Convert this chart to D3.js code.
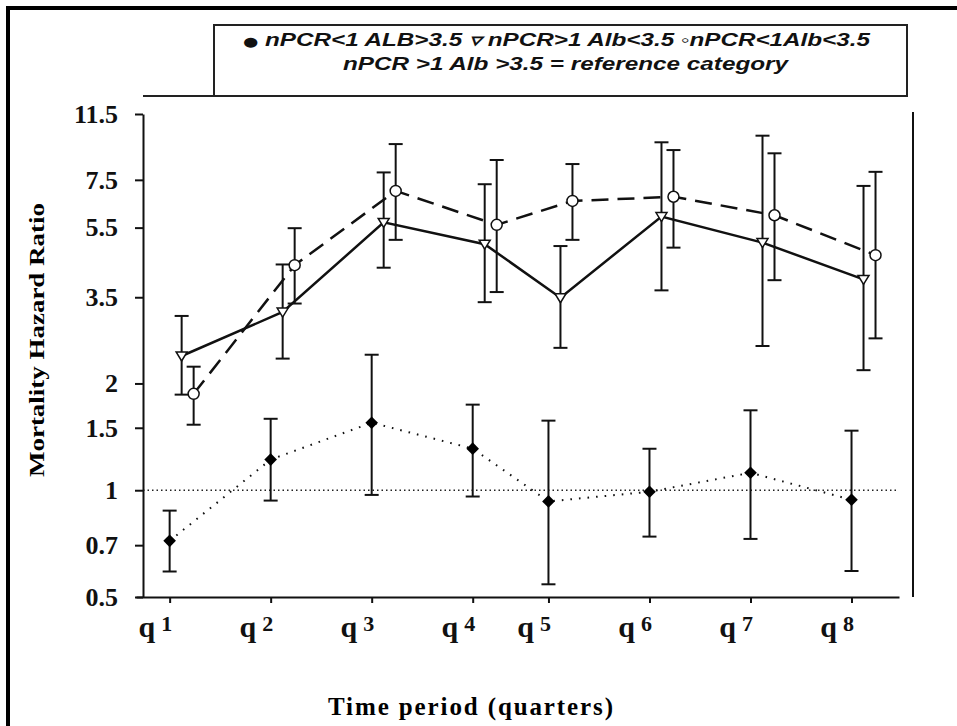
<!DOCTYPE html>
<html lang="en">
    <head>
        <meta charset="utf-8">
        <title>Mortality Hazard Ratio</title>
        <script type="text/javascript" src="https://d3js.org/d3.v7.min.js"></script>
        <style type="text/css">
            body { margin: 0; background: white; }
            .axis path, .axis line { fill: none; stroke: #111; stroke-width: 2; }
            .yaxis text { font-family: "Liberation Serif", serif; font-weight: bold; font-size: 26px; fill: #111; }
            .xaxis text { font-family: "Liberation Serif", serif; font-weight: bold; fill: #111; }
            .legend text { font-family: "Liberation Sans", Arial, sans-serif; font-weight: bold; font-style: italic; font-size: 18px; fill: #111; }
        </style>
    </head>
    <body>
        <script type="text/javascript">

            // quarters (x position of each quarter on the time axis)
            var quarterLabels = ["1", "2", "3", "4", "5", "6", "7", "8"];
            var quarterPos = [1, 2, 3, 4, 4.75, 5.75, 6.75, 7.75];
            var yTicks = [0.5, 0.7, 1, 1.5, 2, 3.5, 5.5, 7.5, 11.5];

            // nPCR<1 ALB>3.5 (filled diamonds)
            var hrA = [0.72, 1.22, 1.55, 1.31, 0.93, 0.99, 1.12, 0.94];
            var loA = [0.59, 0.935, 0.97, 0.96, 0.543, 0.74, 0.729, 0.592];
            var hiA = [0.876, 1.59, 2.41, 1.743, 1.571, 1.309, 1.68, 1.472];

            // nPCR>1 Alb<3.5 (open triangles)
            var hrB = [2.39, 3.18, 5.69, 4.94, 3.49, 5.91, 4.99, 3.93];
            var loB = [1.86, 2.35, 4.24, 3.39, 2.52, 3.66, 2.55, 2.18];
            var hiB = [3.10, 4.33, 7.87, 7.29, 4.88, 9.57, 9.99, 7.21];

            // nPCR<1 Alb<3.5 (open circles)
            var hrC = [1.87, 4.31, 6.98, 5.60, 6.54, 6.72, 5.96, 4.60];
            var loC = [1.53, 3.36, 5.08, 3.62, 5.08, 4.83, 3.91, 2.68];
            var hiC = [2.23, 5.48, 9.46, 8.53, 8.31, 9.10, 8.91, 7.90];

            var w = 957, h = 726;

            var svg = d3.select("body").append("svg")
                        .attr("width", w)
                        .attr("height", h);

            // outer frame
            svg.append("rect")
               .attr("x", 8).attr("y", 8)
               .attr("width", 1000).attr("height", 1000)
               .attr("fill", "none")
               .attr("stroke", "black")
               .attr("stroke-width", 4);

            var xscale = d3.scaleLinear()
                           .domain([0.667, 8.22])
                           .range([136, 899]);

            var yscale = d3.scaleLog()
                           .domain([0.5, 11.5])
                           .range([597, 114]);

            // top line + right line of the plot frame
            svg.append("line")
               .attr("x1", 143).attr("x2", 214)
               .attr("y1", 96).attr("y2", 96)
               .attr("stroke", "#222").attr("stroke-width", 2);
            svg.append("line")
               .attr("x1", 913).attr("x2", 913)
               .attr("y1", 112).attr("y2", 597)
               .attr("stroke", "#111").attr("stroke-width", 2);

            // reference line at HR = 1
            svg.append("line")
               .attr("x1", 143).attr("x2", 899)
               .attr("y1", yscale(1)).attr("y2", yscale(1))
               .attr("stroke", "#222")
               .attr("stroke-width", 1.5)
               .attr("stroke-dasharray", "1.5,3");

            var y_axis = d3.axisLeft(yscale)
                           .tickValues(yTicks)
                           .tickFormat(d3.format(""))
                           .tickSize(8)
                           .tickSizeOuter(0)
                           .tickPadding(17);

            svg.append("g")
               .attr("class", "axis yaxis")
               .attr("transform", "translate(143,0)")
               .call(y_axis);

            var x_axis = d3.axisBottom(xscale)
                           .tickValues(quarterPos)
                           .tickSize(6)
                           .tickSizeOuter(0)
                           .tickFormat("");

            var xAppend = svg.append("g")
                             .attr("class", "axis xaxis")
                             .attr("transform", "translate(0,597)")
                             .call(x_axis);

            // q + raised quarter number
            xAppend.selectAll(".tick text")
                   .attr("y", 40)
                   .attr("dy", 0)
                   .attr("x", 2)
                   .attr("text-anchor", "end")
                   .each(function(d, i) {
                        var t = d3.select(this);
                        t.append("tspan").attr("font-size", "30px").text("q");
                        t.append("tspan").attr("font-size", "22px")
                         .attr("dx", 6).attr("dy", -6)
                         .text(quarterLabels[i]);
                   });

            var series = [
                {hr: hrA, lo: loA, hi: hiA, off: 0, shape: "diamond", dash: "1.6,7", width: 2},
                {hr: hrB, lo: loB, hi: hiB, off: 12, shape: "triangle", dash: null, width: 2.5},
                {hr: hrC, lo: loC, hi: hiC, off: 24, shape: "circle", dash: "17,9", width: 2.5}
            ];

            series.forEach(function(s) {
                var pts = quarterPos.map(function(q, i) {
                    return {x: xscale(q) + s.off, hr: s.hr[i], lo: s.lo[i], hi: s.hi[i]};
                });

                var line = d3.line()
                             .x(function(d) { return d.x; })
                             .y(function(d) { return yscale(d.hr); });

                svg.append("path")
                   .datum(pts)
                   .attr("d", line)
                   .attr("fill", "none")
                   .attr("stroke", "#111")
                   .attr("stroke-width", s.width)
                   .attr("stroke-dasharray", s.dash);

                var eb = svg.append("g")
                            .attr("stroke", "#111")
                            .attr("stroke-width", 2);

                eb.selectAll(".v").data(pts).enter().append("line")
                  .attr("x1", function(d) { return d.x; })
                  .attr("x2", function(d) { return d.x; })
                  .attr("y1", function(d) { return yscale(d.lo); })
                  .attr("y2", function(d) { return yscale(d.hi); });
                eb.selectAll(".top").data(pts).enter().append("line")
                  .attr("x1", function(d) { return d.x - 7; })
                  .attr("x2", function(d) { return d.x + 7; })
                  .attr("y1", function(d) { return yscale(d.hi); })
                  .attr("y2", function(d) { return yscale(d.hi); });
                eb.selectAll(".bot").data(pts).enter().append("line")
                  .attr("x1", function(d) { return d.x - 7; })
                  .attr("x2", function(d) { return d.x + 7; })
                  .attr("y1", function(d) { return yscale(d.lo); })
                  .attr("y2", function(d) { return yscale(d.lo); });

                var marks = svg.append("g");
                if (s.shape == "diamond") {
                    marks.selectAll("path").data(pts).enter().append("path")
                         .attr("d", d3.symbol(d3.symbolSquare, 80))
                         .attr("transform", function(d) {
                             return "translate(" + d.x + "," + yscale(d.hr) + ")rotate(45)";
                         })
                         .attr("fill", "black");
                } else if (s.shape == "triangle") {
                    marks.selectAll("path").data(pts).enter().append("path")
                         .attr("d", "M-5.5,-4L5.5,-4L0,5Z")
                         .attr("transform", function(d) {
                             return "translate(" + d.x + "," + yscale(d.hr) + ")";
                         })
                         .attr("fill", "white")
                         .attr("stroke", "#111")
                         .attr("stroke-width", 1.5);
                } else {
                    marks.selectAll("circle").data(pts).enter().append("circle")
                         .attr("cx", function(d) { return d.x; })
                         .attr("cy", function(d) { return yscale(d.hr); })
                         .attr("r", 5.5)
                         .attr("fill", "white")
                         .attr("stroke", "#111")
                         .attr("stroke-width", 1.5);
                }
            });

            // legend box
            var legend = svg.append("g").attr("class", "legend");
            legend.append("rect")
                  .attr("x", 214).attr("y", 25)
                  .attr("width", 693).attr("height", 71)
                  .attr("fill", "white")
                  .attr("stroke", "#222")
                  .attr("stroke-width", 2);
            var line1 = legend.append("text")
                  .attr("x", 243).attr("y", 46)
                  .attr("textLength", 627)
                  .attr("lengthAdjust", "spacingAndGlyphs");
            line1.append("tspan").style("font-size", "13px").style("font-style", "normal")
                 .attr("font-family", "DejaVu Sans").text("\u25CF");
            line1.append("tspan").text(" nPCR<1 ALB>3.5 \u25BF nPCR>1 Alb<3.5 \u25E6nPCR<1Alb<3.5");
            legend.append("text")
                  .attr("x", 343).attr("y", 70)
                  .attr("textLength", 445)
                  .attr("lengthAdjust", "spacingAndGlyphs")
                  .text("nPCR >1 Alb >3.5 = reference category");

            // axis titles
            svg.append("text")
               .attr("x", 328).attr("y", 715)
               .attr("textLength", 285)
               .attr("lengthAdjust", "spacing")
               .style("font-family", "'Liberation Serif', serif")
               .style("font-weight", "bold")
               .style("font-size", "25px")
               .text("Time period (quarters)");

            svg.append("text")
               .attr("transform", "translate(44,477)rotate(-90)")
               .attr("textLength", 274)
               .attr("lengthAdjust", "spacingAndGlyphs")
               .style("font-family", "'Liberation Serif', serif")
               .style("font-weight", "bold")
               .style("font-size", "21px")
               .text("Mortality Hazard Ratio");

        </script>
    </body>
</html>
